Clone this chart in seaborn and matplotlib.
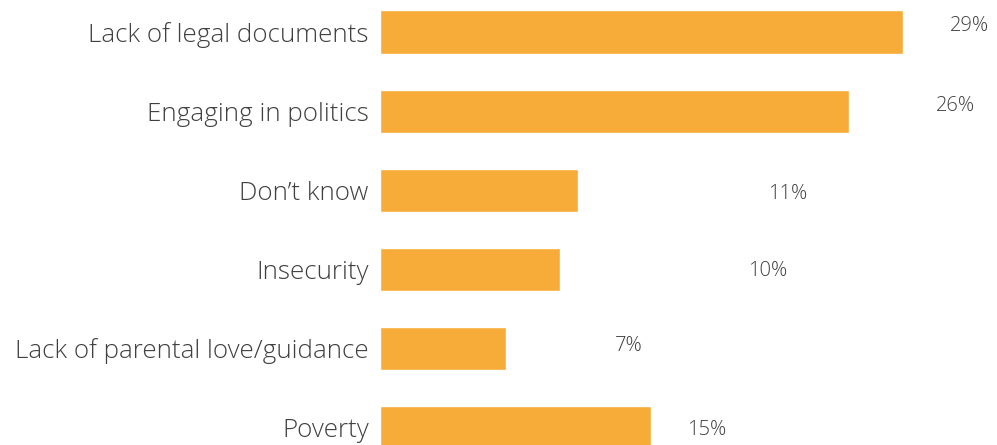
import matplotlib
matplotlib.use("Agg")
import matplotlib.pyplot as plt
import seaborn as sns
import pandas as pd

categories = [
    "Lack of legal documents",
    "Engaging in politics",
    "Don\u2019t know",
    "Insecurity",
    "Lack of parental love/guidance",
    "Poverty",
]
values = [29, 26, 11, 10, 7, 15]
value_labels = ["29%", "26%", "11%", "10%", "7%", "15%"]

# offset of each percentage label from its bar end (x in % units, y in rows)
label_dx = [3.7, 5.9, 11.6, 11.5, 6.8, 3.1]
label_dy = [-0.07, -0.07, 0.05, 0.02, -0.03, 0.03]

sns.set_theme(style="white")
plt.rcParams["font.family"] = ["Open Sans", "DejaVu Sans"]

df = pd.DataFrame({"category": categories, "value": values})

fig = plt.figure(figsize=(9.97, 4.45), dpi=100)
ax = fig.add_axes([0.381, 0.0, 0.619, 1.0])

sns.barplot(data=df, y="category", x="value", orient="h", color="#F7AC3A",
            saturation=1, width=0.545, ax=ax)

ax.set_xlim(0, 34.2)
ax.set_ylim(5.225, -0.405)
ax.set_xlabel("")
ax.set_ylabel("")
ax.set_xticks([])
sns.despine(ax=ax, left=True, bottom=True)
ax.tick_params(axis="y", length=0, pad=8, labelsize=18.7, labelcolor="#404040")
for t in ax.get_yticklabels():
    t.set_fontweight("light")

for i, (v, lab, dx, dy) in enumerate(zip(values, value_labels, label_dx, label_dy)):
    ax.text(v + dx, i + dy, lab, ha="center", va="center", fontsize=14.5,
            color="#404040", fontweight="light")

fig.savefig("out.png", dpi=100)
